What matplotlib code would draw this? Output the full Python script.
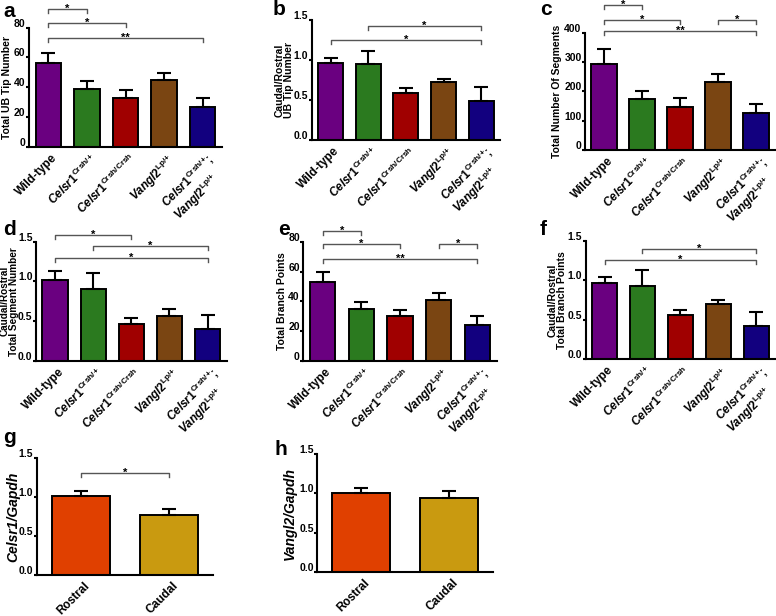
import matplotlib
matplotlib.use('Agg')
import matplotlib.pyplot as plt
from matplotlib.transforms import ScaledTranslation

plt.rcParams['font.family'] = ['Liberation Sans', 'DejaVu Sans']
plt.rcParams['mathtext.fontset'] = 'custom'
plt.rcParams['mathtext.it'] = 'Liberation Sans:italic:bold'
plt.rcParams['mathtext.rm'] = 'Liberation Sans:bold'
plt.rcParams['mathtext.bf'] = 'Liberation Sans:bold'

# ---------------- data ----------------
genotypes = ['Wild-type',
             r'$\mathit{Celsr1}^{\text{Crsh/+}}$',
             r'$\mathit{Celsr1}^{\text{Crsh/Crsh}}$',
             r'$\mathit{Vangl2}^{\text{Lp/+}}$',
             r'$\mathit{Celsr1}^{\text{Crsh/+}}$;' + '\n' + r'$\mathit{Vangl2}^{\text{Lp/+}}$']
regions = ['Rostral', 'Caudal']

geno_colors = ['#6A0080', '#2B7A1F', '#A00000', '#7A4512', '#12007F']
region_colors = ['#E04000', '#C99A10']

tip_total = [56, 39, 33, 45, 27]
tip_total_err = [7, 5, 5, 4.5, 6]
tip_ratio = [0.96, 0.95, 0.59, 0.72, 0.49]
tip_ratio_err = [0.07, 0.16, 0.06, 0.04, 0.17]
seg_total = [295, 175, 148, 232, 125]
seg_total_err = [50, 25, 30, 28, 33]
seg_ratio = [1.02, 0.90, 0.47, 0.57, 0.40]
seg_ratio_err = [0.11, 0.21, 0.07, 0.08, 0.18]
branch_total = [53, 35, 30, 41, 24]
branch_total_err = [6.5, 4.5, 4.5, 4.5, 6]
branch_ratio = [0.96, 0.93, 0.56, 0.70, 0.42]
branch_ratio_err = [0.08, 0.20, 0.06, 0.05, 0.18]
celsr1_expr = [1.01, 0.77]
celsr1_expr_err = [0.07, 0.08]
vangl2_expr = [1.01, 0.94]
vangl2_expr_err = [0.06, 0.09]

W, H = 776, 616
fig = plt.figure(figsize=(W / 100, H / 100), dpi=100)


def axes_px(left, top, right, bottom):
    return fig.add_axes([left / W, 1 - bottom / H, (right - left) / W, (bottom - top) / H])


def panel(ax, labels, vals, errs, colors, ymax, yticks, fmt, ylabel, lab_x,
          brackets, ylabel_style='normal', ylabel_size=7.5):
    n = len(vals)
    x = list(range(n))
    ax.bar(x, vals, width=0.66, color=colors, edgecolor='black', linewidth=1.4, zorder=2)
    ax.errorbar(x, vals, yerr=[[0] * n, errs], fmt='none', ecolor='black',
                elinewidth=1.5, capsize=4.7, capthick=1.5, zorder=3)
    ax.set_xlim(-0.5, n - 0.5)
    ax.set_ylim(0, ymax)
    for s in ['top', 'right']:
        ax.spines[s].set_visible(False)
    ax.spines['left'].set_linewidth(1.5)
    ax.spines['bottom'].set_linewidth(1.5)
    ax.set_xticks([])
    ax.set_yticks(yticks)
    ax.set_yticklabels([fmt.format(v) for v in yticks], fontsize=7.5, fontweight='bold')
    ax.tick_params(axis='y', length=2.5, width=1.5, pad=0.0)
    off = ScaledTranslation(0, 5 / 100, fig.dpi_scale_trans)
    for t in ax.get_yticklabels():
        t.set_transform(t.get_transform() + off)
    ax.set_ylabel(ylabel, fontsize=ylabel_size, fontweight='bold', fontstyle=ylabel_style,
                  va='center', ha='center', multialignment='center', linespacing=0.95)
    ax.yaxis.set_label_coords(lab_x, 0.5)
    for i, lab in enumerate(labels):
        ax.annotate(lab, xy=(i, 0), xycoords=('data', 'data'), xytext=(2, -3.5),
                    textcoords='offset points', rotation=45, ha='right', va='top',
                    rotation_mode='anchor', fontsize=8.5, fontweight='bold',
                    multialignment='left', linespacing=1.0, annotation_clip=False)
    dy = ymax * 4 / 119
    for i, j, y, txt in brackets:
        ax.plot([i, i, j, j], [y - dy, y, y, y - dy], color='#555555', lw=1.0,
                clip_on=False, zorder=4)
        ax.annotate(txt, xy=((i + j) / 2, y), xytext=(0, -3.5), textcoords='offset points',
                    ha='center', va='bottom', fontsize=8, fontweight='bold',
                    annotation_clip=False)


ax_a = axes_px(29, 27.7, 222, 146.7)
panel(ax_a, genotypes, tip_total, tip_total_err, geno_colors, 80, [0, 20, 40, 60, 80], '{:.0f}',
      'Total UB Tip Number', -0.113,
      [(0, 1, 92.6, '*'), (0, 2, 83, '*'), (0, 4, 72.9, '**')])

ax_b = axes_px(311.7, 20, 500, 140)
panel(ax_b, genotypes, tip_ratio, tip_ratio_err, geno_colors, 1.5, [0, 0.5, 1.0, 1.5], '{:.1f}',
      'Caudal/Rostral\nUB Tip Number', -0.145,
      [(1, 4, 1.42, '*'), (0, 4, 1.25, '*')])

ax_c = axes_px(585, 33, 775, 150)
panel(ax_c, genotypes, seg_total, seg_total_err, geno_colors, 400, [0, 100, 200, 300, 400], '{:.0f}',
      'Total Number Of Segments', -0.147,
      [(0, 1, 496, '*'), (0, 2, 445, '*'), (3, 4, 445, '*'), (0, 4, 406, '**')])

ax_d = axes_px(36, 241.7, 226.7, 361)
panel(ax_d, genotypes, seg_ratio, seg_ratio_err, geno_colors, 1.5, [0, 0.5, 1.0, 1.5], '{:.1f}',
      'Caudal/Rostral\nTotal Segment Number', -0.138,
      [(0, 2, 1.59, '*'), (1, 4, 1.44, '*'), (0, 4, 1.29, '*')], ylabel_size=7.2)

ax_e = axes_px(303.3, 241.7, 496.7, 361)
panel(ax_e, genotypes, branch_total, branch_total_err, geno_colors, 80, [0, 20, 40, 60, 80], '{:.0f}',
      'Total Branch Points', -0.11,
      [(0, 1, 87.4, '*'), (0, 2, 78.4, '*'), (3, 4, 78.4, '*'), (0, 4, 68.3, '**')])

ax_f = axes_px(585.7, 240.7, 775, 359.3)
panel(ax_f, genotypes, branch_ratio, branch_ratio_err, geno_colors, 1.5, [0, 0.5, 1.0, 1.5], '{:.1f}',
      'Caudal/Rostral\nTotal Branch Points', -0.148,
      [(1, 4, 1.39, '*'), (0, 4, 1.25, '*')])

ax_g = axes_px(36.7, 458.3, 213.3, 575)
panel(ax_g, regions, celsr1_expr, celsr1_expr_err, region_colors, 1.5, [0, 0.5, 1.0, 1.5], '{:.1f}',
      'Celsr1/Gapdh', -0.134, [(0, 1, 1.31, '*')], ylabel_style='italic', ylabel_size=10)

ax_h = axes_px(317.3, 454.3, 493.3, 571.7)
panel(ax_h, regions, vangl2_expr, vangl2_expr_err, region_colors, 1.5, [0, 0.5, 1.0, 1.5], '{:.1f}',
      'Vangl2/Gapdh', -0.155, [], ylabel_style='italic', ylabel_size=10)

for letter, px, py in [('a', 3, 17), ('b', 273, 15), ('c', 540, 15), ('d', 3, 235),
                       ('e', 278, 235), ('f', 540, 235), ('g', 3, 443), ('h', 275, 455)]:
    fig.text(px / W, 1 - py / H, letter, ha='left', va='baseline', fontsize=15,
             fontweight='bold')

fig.savefig('out.png', dpi=100)
